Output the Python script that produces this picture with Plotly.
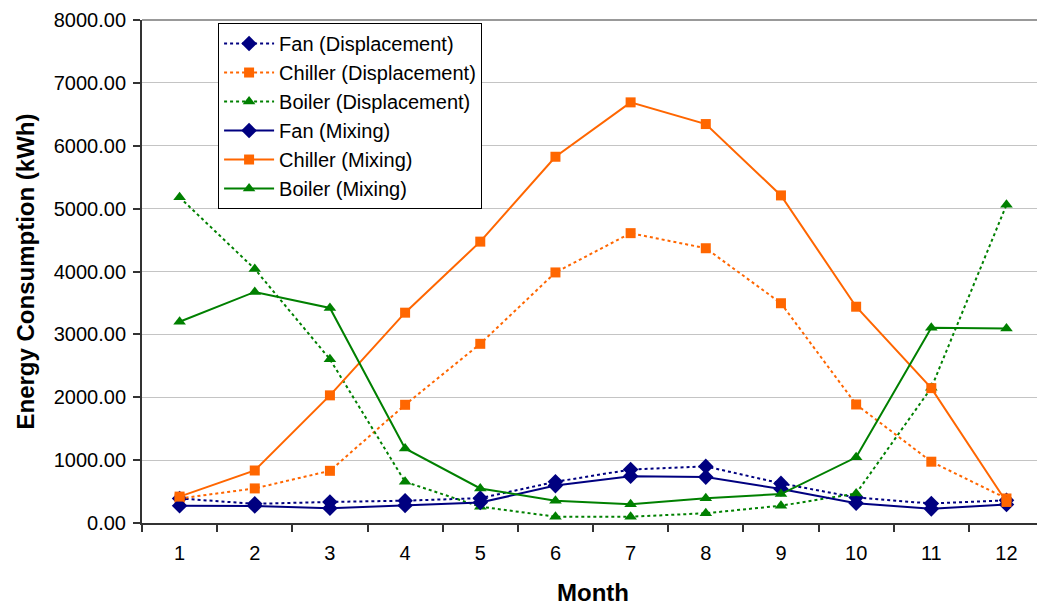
import plotly.graph_objects as go

months = ["1", "2", "3", "4", "5", "6", "7", "8", "9", "10", "11", "12"]

fan_disp = [390, 305, 335, 355, 395, 655, 850, 900, 630, 405, 310, 360]
chiller_disp = [390, 550, 830, 1880, 2850, 3985, 4610, 4370, 3495, 1885, 975, 390]
boiler_disp = [5180, 4040, 2605, 655, 260, 100, 100, 155, 275, 470, 2150, 5060]
fan_mix = [275, 270, 235, 280, 325, 595, 745, 730, 540, 315, 225, 295]
chiller_mix = [420, 835, 2030, 3345, 4475, 5825, 6690, 6345, 5210, 3440, 2145, 335]
boiler_mix = [3200, 3675, 3420, 1185, 550, 355, 300, 395, 460, 1045, 3105, 3095]

NAVY = "#000080"
ORANGE = "#FF6600"
GREEN = "#008000"
FONT = "Liberation Sans, Arial, sans-serif"

series = [
    ("Fan (Displacement)", fan_disp, NAVY, "diamond", 12, "3px,3px"),
    ("Chiller (Displacement)", chiller_disp, ORANGE, "square", 10, "3px,3px"),
    ("Boiler (Displacement)", boiler_disp, GREEN, "triangle-up", 11, "3px,3px"),
    ("Fan (Mixing)", fan_mix, NAVY, "diamond", 12, "solid"),
    ("Chiller (Mixing)", chiller_mix, ORANGE, "square", 10, "solid"),
    ("Boiler (Mixing)", boiler_mix, GREEN, "triangle-up", 11, "solid"),
]

fig = go.Figure()
for i, (name, vals, col, sym, size, dash) in enumerate(series):
    fig.add_trace(go.Scatter(
        x=months, y=vals, name=name, mode="lines+markers",
        legendgroup=f"g{i}",
        line=dict(color=col, width=2, dash=dash),
        marker=dict(symbol=sym, size=size, color=col, line=dict(width=0)),
    ))

fig.update_layout(
    width=1037, height=608,
    margin=dict(l=142, r=0, t=20, b=85),
    paper_bgcolor="white", plot_bgcolor="white",
    font=dict(family=FONT, size=20, color="black"),
    showlegend=True,
    legend=dict(
        x=0.085, y=0.994, xanchor="left", yanchor="top",
        bgcolor="white", bordercolor="black", borderwidth=1,
        font=dict(family=FONT, size=20, color="black"),
        itemwidth=50, tracegroupgap=0,
    ),
    xaxis=dict(
        type="category", range=[-0.5, 11.406],
        tickson="boundaries", ticks="outside", ticklen=7, tickwidth=1.5,
        tickcolor="#333333", showline=True, linecolor="#333333", linewidth=2,
        showgrid=False, zeroline=False,
        tickfont=dict(family=FONT, size=20, color="black"),
        ticklabelstandoff=11,
    ),
    yaxis=dict(
        range=[0, 8000], dtick=1000, tickformat=".2f",
        ticks="outside", ticklen=7, tickwidth=1.5, tickcolor="#333333",
        showline=True, linecolor="#333333", linewidth=2,
        showgrid=True, gridcolor="#c4c4c4", gridwidth=1,
        zeroline=False,
        tickfont=dict(family=FONT, size=20, color="black"),
        ticklabelstandoff=3,
    ),
    shapes=[dict(type="line", xref="paper", yref="paper", x0=0, x1=1, y0=1, y1=1,
                 line=dict(color="#999999", width=2))],
    annotations=[
        dict(text="<b>Energy Consumption (kWh)</b>", xref="paper", yref="paper",
             x=-0.1307, y=0.5, textangle=-90, showarrow=False,
             xanchor="center", yanchor="middle",
             font=dict(family=FONT, size=24, color="black")),
        dict(text="<b>Month</b>", xref="paper", yref="paper",
             x=0.504, y=-0.139, showarrow=False,
             xanchor="center", yanchor="middle",
             font=dict(family=FONT, size=24, color="black")),
    ],
)

fig.write_html("out.html")
